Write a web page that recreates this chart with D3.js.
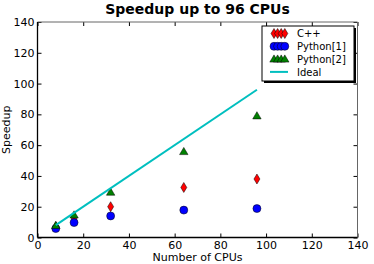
<!DOCTYPE html>
<html>
<head>
<meta charset="UTF-8">
<script src="https://d3js.org/d3.v7.min.js"></script>
<style>
  body { margin: 0; background: #fff; }
  text { font-family: "DejaVu Sans", sans-serif; }
</style>
</head>
<body>
<div id="chart"></div>
<script>
// data
var cpus = [8, 16, 32, 64, 96];
var cppSpeedup = [7, 12.8, 20, 32.5, 38];
var py1Speedup = [5.8, 9.7, 14, 17.8, 18.8];
var py2Speedup = [7.8, 14.6, 29.4, 55.8, 79];
var idealSpeedup = [8, 96];
var idealCpus = [8, 96];
var tickValues = [0, 20, 40, 60, 80, 100, 120, 140];

var W = 374, H = 264;
var margin = {top: 22, right: 16.5, bottom: 26.5, left: 37.5};
var width = W - margin.left - margin.right,
    height = H - margin.top - margin.bottom;

var svg = d3.select("#chart").append("svg")
  .attr("width", W).attr("height", H);

var g = svg.append("g")
  .attr("transform", "translate(" + margin.left + "," + margin.top + ")");

var x = d3.scaleLinear().domain([0, 140]).range([0, width]);
var y = d3.scaleLinear().domain([0, 140]).range([height, 0]);

// ticks on all four sides, pointing in
g.append("g").attr("transform", "translate(0," + height + ")")
  .call(d3.axisBottom(x).tickValues(tickValues).tickSizeInner(-4).tickSizeOuter(0).tickPadding(4))
  .call(function(a) { a.select(".domain").remove(); })
  .selectAll("text").attr("font-size", 11).attr("fill", "#000").attr("font-family", "DejaVu Sans");
g.append("g")
  .call(d3.axisLeft(y).tickValues(tickValues).tickSizeInner(-4).tickSizeOuter(0).tickPadding(3))
  .call(function(a) { a.select(".domain").remove(); })
  .selectAll("text").attr("font-size", 11).attr("fill", "#000").attr("font-family", "DejaVu Sans");
g.append("g")
  .call(d3.axisTop(x).tickValues(tickValues).tickSizeInner(-4).tickSizeOuter(0).tickFormat(""))
  .call(function(a) { a.select(".domain").remove(); });
g.append("g").attr("transform", "translate(" + width + ",0)")
  .call(d3.axisRight(y).tickValues(tickValues).tickSizeInner(-4).tickSizeOuter(0).tickFormat(""))
  .call(function(a) { a.select(".domain").remove(); });

// frame
g.append("line").attr("x1", 0).attr("x2", width).attr("y1", 0).attr("y2", 0).attr("stroke", "#666");
g.append("line").attr("x1", width).attr("x2", width).attr("y1", 0).attr("y2", height).attr("stroke", "#666");
g.append("line").attr("x1", 0).attr("x2", 0).attr("y1", 0).attr("y2", height).attr("stroke", "#000").attr("stroke-width", 1.3);
g.append("line").attr("x1", 0).attr("x2", width).attr("y1", height).attr("y2", height).attr("stroke", "#000").attr("stroke-width", 1.3);

var diamond = "M0,-5L3,0L0,5L-3,0Z";
var triangle = "M0,-4.2L4.2,3L-4.2,3Z";

function drawMarker(sel, kind, color) {
  if (kind == "circle") {
    sel.append("circle").attr("r", 4).attr("fill", color).attr("stroke", "#000").attr("stroke-width", 0.5);
  } else {
    sel.append("path").attr("d", kind == "diamond" ? diamond : triangle)
      .attr("fill", color).attr("stroke", "#000").attr("stroke-width", 0.5);
  }
}

var series = [
  {name: "C++", vals: cppSpeedup, kind: "diamond", color: "#ff0000"},
  {name: "Python[1]", vals: py1Speedup, kind: "circle", color: "#0000ff"},
  {name: "Python[2]", vals: py2Speedup, kind: "triangle", color: "#008000"}
];

series.forEach(function(s) {
  cpus.forEach(function(c, i) {
    var m = g.append("g").attr("transform", "translate(" + x(c) + "," + y(s.vals[i]) + ")");
    drawMarker(m, s.kind, s.color);
  });
});

var line = d3.line().x(function(d, i) { return x(idealCpus[i]); }).y(function(d) { return y(d); });
g.append("path").datum(idealSpeedup).attr("d", line)
  .attr("fill", "none").attr("stroke", "#00bfbf").attr("stroke-width", 2);

// legend
var lg = svg.append("g").attr("transform", "translate(262,26)");
lg.append("rect").attr("x", 2).attr("y", 2).attr("width", 92).attr("height", 55).attr("fill", "#000");
lg.append("rect").attr("x", 0).attr("y", 0).attr("width", 92).attr("height", 55)
  .attr("fill", "#fff").attr("stroke", "#000").attr("stroke-width", 1);
series.forEach(function(s, i) {
  var ry = 7.5 + i * 12.8;
  for (var k = 0; k < 4; k++) {
    var m = lg.append("g").attr("transform", "translate(" + (12 + k * 3.6) + "," + ry + ")");
    drawMarker(m, s.kind, s.color);
  }
  lg.append("text").attr("x", 35).attr("y", ry + 3.7).attr("font-size", 10).text(s.name);
});
lg.append("line").attr("x1", 8).attr("x2", 26).attr("y1", 7.5 + 3 * 12.8).attr("y2", 7.5 + 3 * 12.8)
  .attr("stroke", "#00bfbf").attr("stroke-width", 2);
lg.append("text").attr("x", 35).attr("y", 7.5 + 3 * 12.8 + 3.7).attr("font-size", 10).text("Ideal");

// titles
svg.append("text").attr("x", margin.left + width / 2).attr("y", 14)
  .attr("text-anchor", "middle").attr("font-size", 14).attr("font-weight", "bold").text("Speedup up to 96 CPUs");
svg.append("text").attr("x", margin.left + width / 2).attr("y", 261)
  .attr("text-anchor", "middle").attr("font-size", 11).text("Number of CPUs");
svg.append("text").attr("transform", "translate(10," + (margin.top + height / 2) + ")rotate(-90)")
  .attr("text-anchor", "middle").attr("font-size", 11).text("Speedup");
</script>
</body>
</html>
